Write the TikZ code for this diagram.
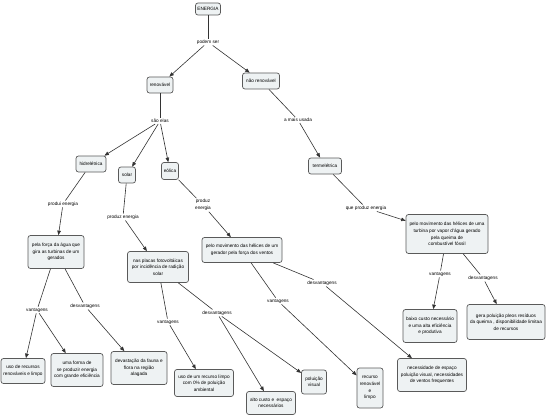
\documentclass[tikz,border=0pt]{standalone}
\usepackage{fontspec}
\setmainfont{Liberation Sans}
\usetikzlibrary{arrows.meta, positioning}
\definecolor{cline}{HTML}{333333}
\definecolor{cedge}{HTML}{5A5A5A}
\definecolor{cfill}{HTML}{EEF2F3}
\tikzset{
  every picture/.style={font=\fontsize{4.7}{6.6}\selectfont, line width=0.6pt},
  concept/.style={draw=cedge, fill=cfill, rounded corners=2.5pt, align=center, inner sep=1.5pt, line width=0.7pt},
  link/.style={fill=white, align=center, inner sep=1pt},
  ln/.style={draw=cline},
  arr/.style={draw=cline, -{Triangle[length=4.5pt, width=3.6pt]}},
}

\begin{document}
\begin{tikzpicture}[x=1pt, y=-1pt]
  \useasboundingbox (0,0) rectangle (548,417);
  % top levels
  \node[concept, minimum width=25pt, minimum height=12pt] (energia) at (208,9) {ENERGIA};
  \node[link] (podem) at (208,42) {podem ser};
  \node[concept, minimum width=26pt, minimum height=16pt] (renov) at (160,85) {renovável};
  \node[concept, minimum width=37pt, minimum height=16pt] (naorenov) at (261,81) {não renovável};
  \node[link] (saoelas) at (160,121) {são elas};
  \node[concept, minimum width=30pt, minimum height=16pt] (hidro) at (91,164) {hidrelétrica};
  \node[concept, minimum width=17pt, minimum height=16pt] (solar) at (127,175) {solar};
  \node[concept, minimum width=17pt, minimum height=17pt] (eolica) at (170,171) {eólica};
  \node[link] (maisusada) at (298,120) {a mais usada};
  \node[concept, minimum width=33pt, minimum height=16pt] (termo) at (325,166) {termelétrica};
  % how each one produces energy
  \node[link] (hidprod) at (63,204) {produi energia};
  \node[link] (solprod) at (123,217) {produz energia};
  \node[link] (eolprod) at (203,205) {produz\\energia};
  \node[link] (termprod) at (366,208) {que produz energia};
  \node[concept, minimum width=56pt, minimum height=33pt] (hidforca) at (56,252) {pela força da água que\\gira as turbinas de um\\gerados};
  \node[concept, minimum width=61pt, minimum height=31pt] (solplacas) at (158,267) {nas placas fotovoltáicas\\por incidência de radição\\solar};
  \node[concept, minimum width=80pt, minimum height=25pt] (eolmov) at (242,250) {pelo movimento das hélices de um\\gerador pela força dos ventos};
  \node[concept, minimum width=82pt, minimum height=39pt] (termmov) at (447,234) {pelo movimento das hélices de uma\\turbina por vapor d'água gerado\\pela queima de\\combustível fóssil};
  % vantagens / desvantagens
  \node[link] (hidvant) at (37,310) {vantagens};
  \node[link] (hiddesv) at (85,306) {desvantagens};
  \node[link] (solvant) at (168,322) {vantagens};
  \node[link] (soldesv) at (217,313) {desvantagens};
  \node[link] (eolvant) at (278,301) {vantagens};
  \node[link] (eoldesv) at (322,283) {desvantagens};
  \node[link] (termvant) at (440,274) {vantagens};
  \node[link] (termdesv) at (483,278) {desvantagens};
  \node[concept, minimum width=44pt, minimum height=25pt] (hidv1) at (23,371) {uso de recursos\\renováveis e limpo};
  \node[concept, minimum width=52pt, minimum height=33pt] (hidv2) at (77,370) {uma forma de\\se produzir energia\\com grande eficiência};
  \node[concept, minimum width=56pt, minimum height=33pt] (hidd1) at (139,368) {devastação da fauna e\\flora na região\\alagada};
  \node[concept, minimum width=59pt, minimum height=27pt] (solv1) at (204,383) {uso de um recurso limpo\\com 0\% de poluição\\ambiental};
  \node[concept, minimum width=49pt, minimum height=23pt] (sold1) at (271,403) {alto custo e\ \ espaço\\necessários};
  \node[concept, minimum width=25pt, minimum height=24pt] (sold2) at (314,382) {poluição\\visual};
  \node[concept, minimum width=26pt, minimum height=40pt] (eolv1) at (370,388) {recurso\\renovável\\e\\limpo};
  \node[concept, minimum width=69pt, minimum height=33pt] (eold1) at (432,375) {necessidade de espaço\\poluição visual, necessidades\\de ventos frequentes};
  \node[concept, minimum width=54pt, minimum height=33pt] (termv1) at (430,326) {baixo custo necessário\\e uma alta eficiência\\e produtiva};
  \node[concept, minimum width=78pt, minimum height=35pt] (termd1) at (506,322) {gera poluição pleos resíduos\\da queima , disponibilidade limitaa\\de recursos};
  % connectors
  \draw[ln] (energia) -- (podem); \draw[arr] (podem) -- (renov); \draw[arr] (podem) -- (naorenov);
  \draw[ln] (renov) -- (saoelas); \draw[arr] (saoelas) -- (hidro); \draw[arr] (saoelas) -- (solar); \draw[arr] (saoelas) -- (eolica);
  \draw[ln] (naorenov) -- (maisusada); \draw[arr] (maisusada) -- (termo);
  \draw[ln] (hidro) -- (hidprod); \draw[arr] (hidprod) -- (hidforca);
  \draw[ln] (solar) -- (solprod); \draw[arr] (solprod) -- (solplacas);
  \draw[ln] (eolica) -- (eolprod); \draw[arr] (eolprod) -- (eolmov);
  \draw[ln] (termo) -- (termprod); \draw[arr] (termprod) -- (termmov);
  \draw[ln] (hidforca) -- (hidvant); \draw[arr] (hidvant) -- (hidv1); \draw[arr] (hidvant) -- (hidv2);
  \draw[ln] (hidforca) -- (hiddesv); \draw[arr] (hiddesv) -- (hidd1);
  \draw[ln] (solplacas) -- (solvant); \draw[arr] (solvant) -- (solv1);
  \draw[ln] (solplacas) -- (soldesv); \draw[arr] (soldesv) -- (sold1); \draw[arr] (soldesv) -- (sold2);
  \draw[ln] (eolmov) -- (eolvant); \draw[arr] (eolvant) -- (eolv1);
  \draw[ln] (eolmov) -- (eoldesv); \draw[arr] (eoldesv) -- (eold1);
  \draw[ln] (termmov) -- (termvant); \draw[arr] (termvant) -- (termv1);
  \draw[ln] (termmov) -- (termdesv); \draw[arr] (termdesv) -- (termd1);
\end{tikzpicture}
\end{document}
